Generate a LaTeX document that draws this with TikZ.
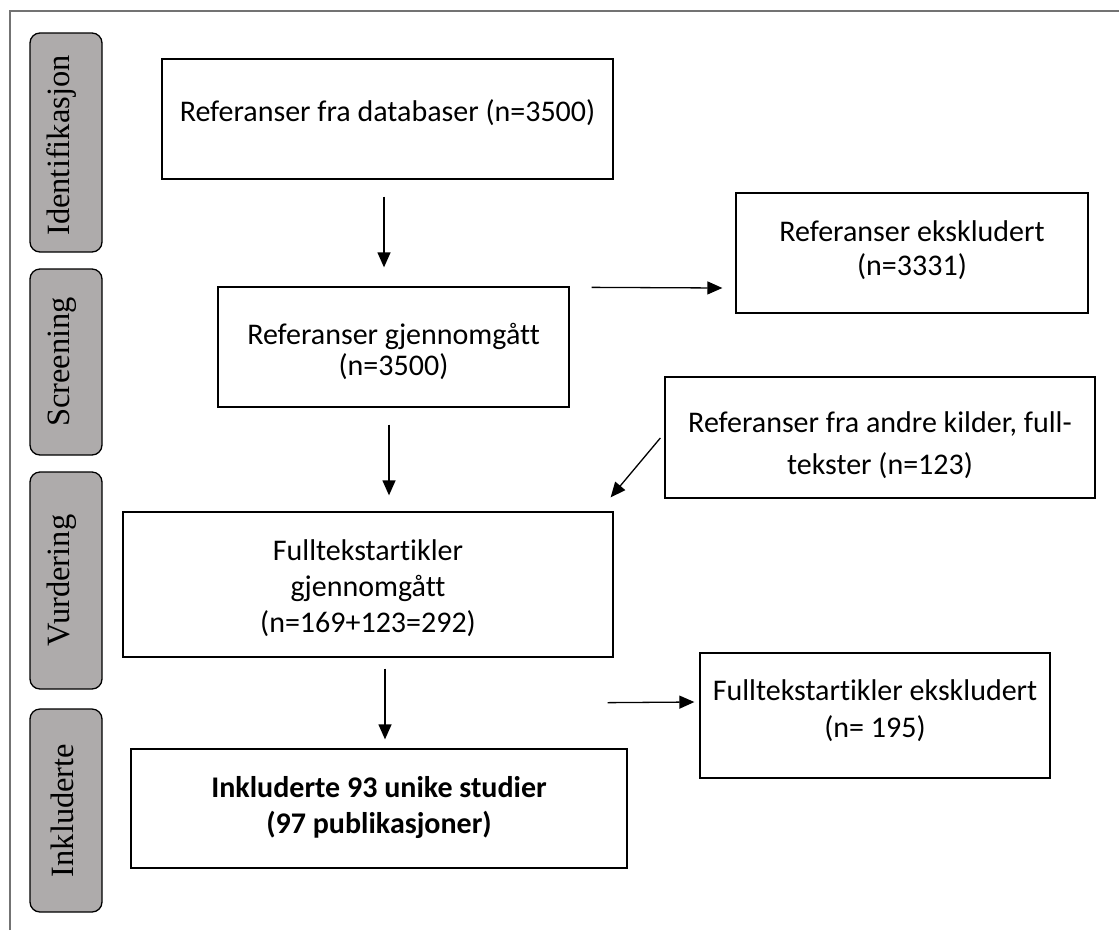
\documentclass[tikz,border=0pt]{standalone}
\usepackage{fontspec}
\setmainfont{Carlito}[Ligatures=NoCommon]
\newfontfamily\lblfont{Liberation Serif}
\usetikzlibrary{arrows.meta,calc}
\definecolor{lblgray}{RGB}{174,171,171}
\begin{document}
\begin{tikzpicture}[x=1pt,y=-1pt,
  box/.style={draw=black, line width=1.3pt, inner sep=0pt, fill=white},
  txt/.style={align=center, inner sep=0pt},
  lbl/.style={draw=black, line width=1.3pt, fill=lblgray, rounded corners=10pt, inner sep=0pt, minimum width=72pt},
  lbltxt/.style={rotate=90, font=\lblfont\fontsize{32.5}{36}\selectfont, text=black, inner sep=0pt},
  arr/.style={line width=1.3pt, -{Triangle[length=15pt,width=13pt]}},
  frameline/.style={draw=black!55, line width=1.5pt}]

\useasboundingbox (0,0) rectangle (1119,930);
\draw[frameline] (10,930) -- (10,11) -- (1119,11);

% phase labels
\node[lbl, minimum height=219pt] (l1) at (66,142.5) {};
\node[lbltxt] (lt1) at (62,145.5) {Identifikasjon};
\node[lbl, minimum height=186pt] (l2) at (66,362) {};
\node[lbltxt] (lt2) at (62,362) {Screening};
\node[lbl, minimum height=217pt] (l3) at (66,580.5) {};
\node[lbltxt] (lt3) at (62,580.5) {Vurdering};
\node[lbl, minimum height=203pt] (l4) at (66,810.5) {};
\node[lbltxt] (lt4) at (62,810.5) {Inkluderte};

% boxes
\node[box, minimum width=451pt, minimum height=120pt] (b1) at (387.5,119) {};
\node[txt, font=\fontsize{30}{36}\selectfont] (t1) at (387.5,112.5) {Referanser fra databaser (n=3500)};

\node[box, minimum width=351pt, minimum height=120pt] (b2) at (393.5,347) {};
\node[txt, font=\fontsize{30}{31}\selectfont] (t2) at (393.5,351) {Referanser gjennomgått\\(n=3500)};

\node[box, minimum width=352pt, minimum height=120pt] (b3) at (912,253) {};
\node[txt, font=\fontsize{30}{34}\selectfont] (t3) at (912,250.5) {Referanser ekskludert\\(n=3331)};

\node[box, minimum width=430pt, minimum height=121pt] (b4) at (880,437.5) {};
\node[txt, font=\fontsize{30}{42}\selectfont] (t4) at (880,445.5) {Referanser fra andre kilder, full-\\tekster (n=123)};

\node[box, minimum width=490pt, minimum height=145pt] (b5) at (368,584.5) {};
\node[txt, font=\fontsize{30}{36}\selectfont] (t5) at (368,588.5) {Fulltekstartikler\\gjennomgått\\(n=169+123=292)};

\node[box, minimum width=496pt, minimum height=119pt] (b6) at (379,808.5) {};
\node[txt, font=\bfseries\fontsize{30}{36}\selectfont] (t6) at (379,807.5) {Inkluderte 93 unike studier\\(97 publikasjoner)};

\node[box, minimum width=350pt, minimum height=125pt] (b7) at (875,715.5) {};
\node[txt, font=\fontsize{30}{37}\selectfont] (t7) at (875,711) {Fulltekstartikler ekskludert\\(n= 195)};

% connectors
\draw[arr] ($(b1.south)+(-3.5,17)$) -- ($(b2.north)+(-9.5,-19)$);
\draw[arr] ($(b2.north east)+(22,1)$) -- ($(b3.west)+(-13,35)$);
\draw[arr] ($(b2.south)+(-4.5,17)$) -- ($(b5.north)+(21,-16)$);
\draw[arr] ($(b4.west)+(-4,0.5)$) -- ($(b5.north east)+(-3,-14)$);
\draw[arr] ($(b5.south)+(17,11)$) -- ($(b6.north)+(6,-9)$);
\draw[arr] ($(b5.south east)+(-6,45)$) -- ($(b7.west)+(-5,-13.5)$);
\end{tikzpicture}
\end{document}
